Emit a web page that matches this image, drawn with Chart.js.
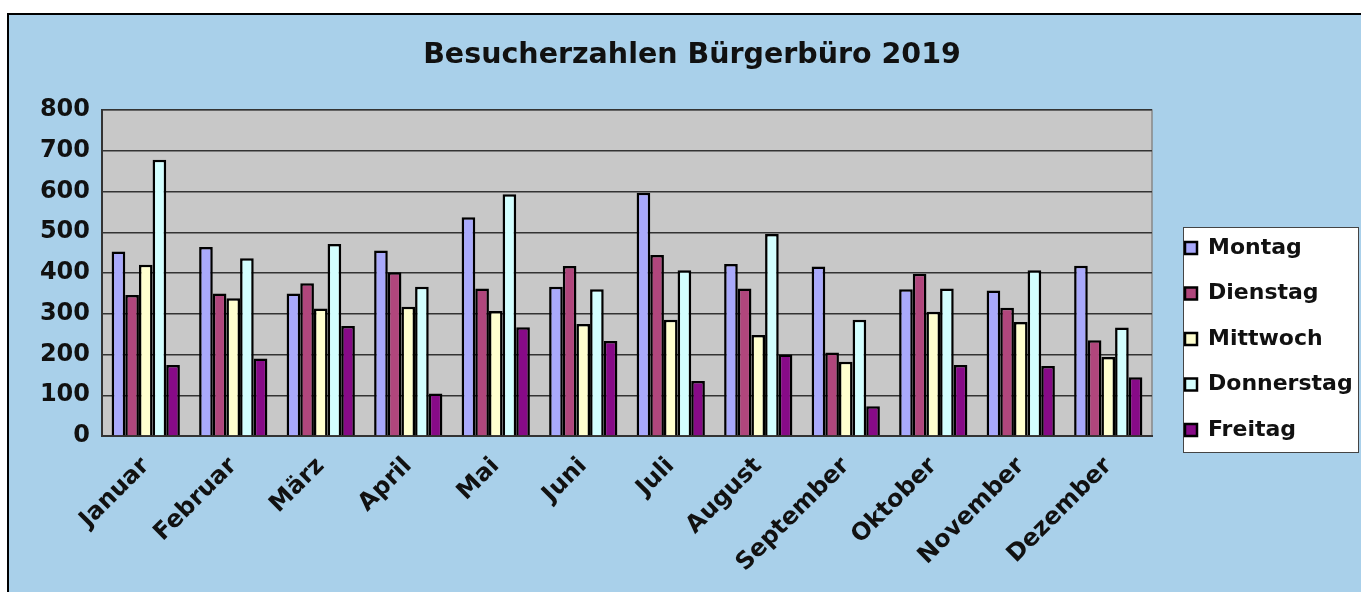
<!DOCTYPE html>
<html><head><meta charset="utf-8">
<script src="https://cdn.jsdelivr.net/npm/chart.js@4/dist/chart.umd.min.js"></script>
<style>html,body{margin:0;padding:0;background:#fff;overflow:hidden}</style>
</head><body>
<canvas id="c" width="1361" height="592" style="display:block;width:1361px;height:592px"></canvas>
<script>
const chartTitle = 'Besucherzahlen Bürgerbüro 2019';
const months = ['Januar','Februar','März','April','Mai','Juni','Juli','August','September','Oktober','November','Dezember'];
const seriesNames = ['Montag','Dienstag','Mittwoch','Donnerstag','Freitag'];
const montag     = [453,464,350,455,537,366,597,422,416,360,357,418];
const dienstag   = [346,350,375,402,362,417,444,362,205,398,315,235];
const mittwoch   = [420,338,313,317,307,275,285,248,182,305,280,194];
const donnerstag = [678,436,471,366,593,360,407,496,285,362,407,266];
const freitag    = [174,190,270,104,267,233,135,200, 73,174,172,144];
const yTicks = [0,100,200,300,400,500,600,700,800];
const seriesColors = ['#a9a9fb','#b0467c','#ffffcf','#d3ffff','#870a87'];

const FONT = 'DejaVu Sans';
const values = [montag, dienstag, mittwoch, donnerstag, freitag];

const bgPlugin = {
  id: 'bg',
  beforeDraw(chart) {
    const ctx = chart.ctx, a = chart.chartArea;
    ctx.save();
    ctx.fillStyle = '#ffffff';
    ctx.fillRect(0, 0, chart.width, chart.height);
    ctx.fillStyle = '#a9d0ea';
    ctx.fillRect(8, 14, chart.width - 8, chart.height - 14);
    ctx.strokeStyle = '#000';
    ctx.lineWidth = 2;
    ctx.beginPath();
    ctx.moveTo(8, chart.height); ctx.lineTo(8, 14); ctx.lineTo(chart.width, 14);
    ctx.stroke();
    ctx.fillStyle = '#c8c8c8';
    ctx.fillRect(a.left, a.top, a.right - a.left, a.bottom - a.top);
    ctx.strokeStyle = '#888';
    ctx.lineWidth = 1.5;
    ctx.beginPath();
    ctx.moveTo(a.left, a.top); ctx.lineTo(a.right, a.top); ctx.lineTo(a.right, a.bottom);
    ctx.stroke();
    // legend frame
    ctx.fillStyle = '#ffffff';
    ctx.fillRect(1183, 227, 175, 225);
    ctx.strokeStyle = '#444';
    ctx.lineWidth = 1;
    ctx.strokeRect(1183.5, 227.5, 175, 225);
    ctx.restore();
  }
};

const legendPlacer = {
  id: 'legendPlacer',
  beforeLayout(chart) {
    const lg = chart.legend;
    if (lg && !lg._wrapped) {
      const fit = lg.fit;
      lg.fit = function () { fit.call(this); this.width = 209; };
      lg._wrapped = true;
    }
  },
  afterLayout(chart) {
    const lg = chart.legend;
    if (!lg) return;
    lg.left = 1161.5; lg.right = 1358; lg.width = lg.right - lg.left;
    lg.top = 208; lg.bottom = 470; lg.height = lg.bottom - lg.top;
  }
};

new Chart(document.getElementById('c'), {
  type: 'bar',
  data: {
    labels: months,
    datasets: seriesNames.map((n, i) => ({
      label: n,
      data: values[i],
      backgroundColor: seriesColors[i],
      borderColor: '#000',
      borderWidth: 2.5,
      barPercentage: 1.0,
      categoryPercentage: 0.78
    }))
  },
  options: {
    responsive: false,
    animation: false,
    layout: { padding: { left: 23, right: 0, top: 0, bottom: 0 } },
    scales: {
      x: {
        grid: { display: false },
        border: { display: true, color: '#333', width: 2 },
        ticks: {
          color: '#111', font: { family: FONT, weight: 'bold', size: 24 },
          minRotation: 45, maxRotation: 45, autoSkip: false, padding: 8
        },
        afterFit(s) { s.height = 156; }
      },
      y: {
        min: 0, max: 800,
        afterBuildTicks(s) { s.ticks = yTicks.map(v => ({ value: v })); },
        grid: { color: '#333333', lineWidth: 1.5, drawTicks: false },
        border: { display: true, color: '#333', width: 2 },
        ticks: { color: '#111', font: { family: FONT, weight: 'bold', size: 24 }, padding: 12 },
        afterFit(s) { s.width = 79; }
      }
    },
    plugins: {
      title: {
        display: true, text: chartTitle, color: '#111',
        font: { family: FONT, weight: 'bold', size: 28.5 },
        padding: { top: 38, bottom: 37.8 }
      },
      legend: {
        position: 'right', fullSize: false,
        labels: {
          color: '#111', font: { family: FONT, weight: 'bold', size: 22 },
          boxWidth: 12, boxHeight: 12, padding: 23.5
        }
      },
      tooltip: { enabled: false }
    }
  },
  plugins: [bgPlugin, legendPlacer]
});
</script>
</body></html>
